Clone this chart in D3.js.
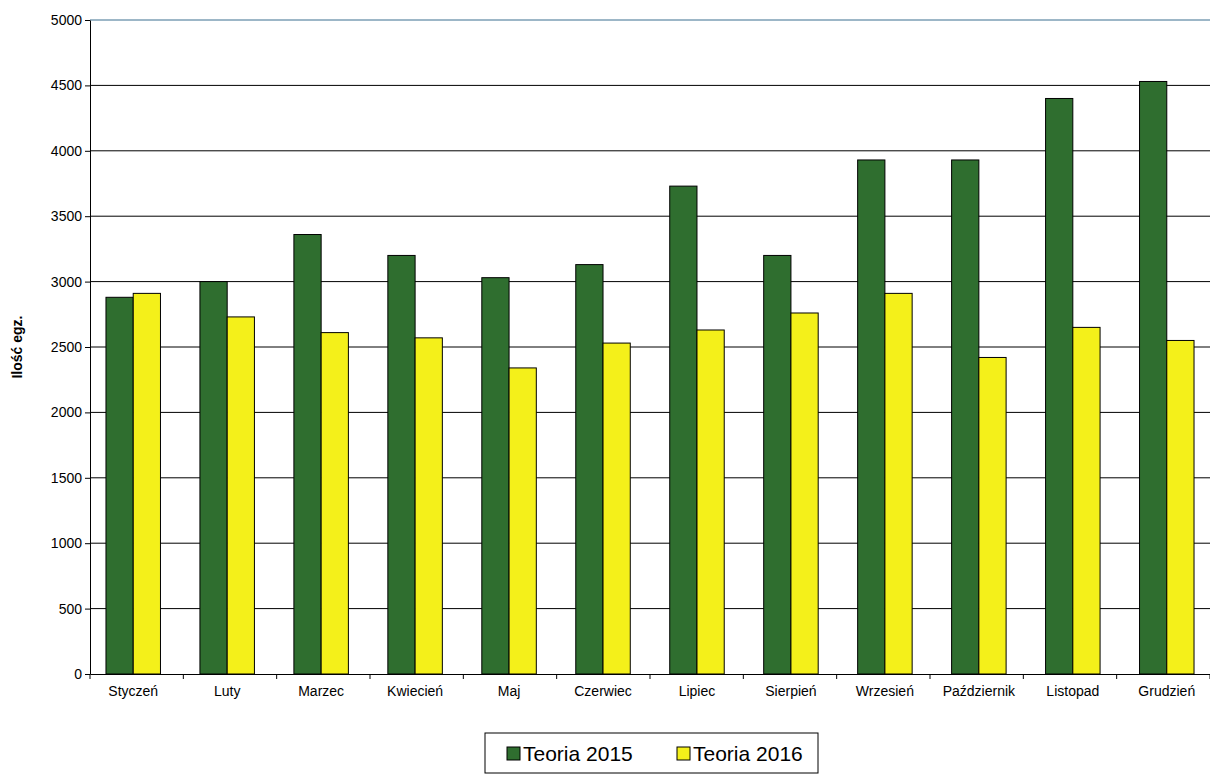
<!DOCTYPE html>
<html><head><meta charset="utf-8">
<script src="https://cdn.jsdelivr.net/npm/d3@7"></script>
<style>body{margin:0;background:#fff;font-family:"Liberation Sans",Arial,sans-serif}</style>
</head><body><svg id="c" width="1210" height="776"></svg>
<script>
const months=["Styczeń","Luty","Marzec","Kwiecień","Maj","Czerwiec","Lipiec","Sierpień","Wrzesień","Październik","Listopad","Grudzień"];
const teoria2015=[2880,3000,3360,3200,3030,3130,3730,3200,3930,3930,4400,4530];
const teoria2016=[2910,2730,2610,2570,2340,2530,2630,2760,2910,2420,2650,2550];
const seriesNames=["Teoria 2015","Teoria 2016"];
const colors=["#2f6e2f","#f4f01a"];
const yTicks=d3.range(0,5001,500);

const svg=d3.select("#c");
const m={l:90,r:0,t:20,b:102};
const W=1210-m.l-m.r,H=776-m.t-m.b;
const g=svg.append("g").attr("transform",`translate(${m.l},${m.t})`);
const x=d3.scaleBand().domain(months).range([0,W]).paddingInner(0.42).paddingOuter(0.17);
const y=d3.scaleLinear().domain([0,5000]).range([H,0]);

g.selectAll(".grid").data(yTicks.slice(1)).enter().append("line")
 .attr("x1",0).attr("x2",W).attr("y1",d=>y(d)).attr("y2",d=>y(d))
 .attr("stroke",d=>d===5000?"#3a6f8f":"#000").attr("stroke-width",1);

const bw=x.bandwidth()/2;
[teoria2015,teoria2016].forEach((s,i)=>{
 g.selectAll(".b"+i).data(s).enter().append("rect")
  .attr("x",(d,j)=>x(months[j])+i*bw).attr("width",bw)
  .attr("y",d=>y(d)).attr("height",d=>H-y(d))
  .attr("fill",colors[i]).attr("stroke","#000").attr("stroke-width",1);
});

const ya=g.append("g").call(d3.axisLeft(y).tickValues(yTicks).tickFormat(d3.format("d")).tickSize(5).tickSizeOuter(0));
ya.selectAll("text").attr("font-size",14).attr("fill","#000").attr("font-family","Liberation Sans, Arial");
ya.select(".domain").attr("stroke","#000");
const xa=g.append("g").attr("transform",`translate(0,${H})`).call(d3.axisBottom(x).tickSize(0).tickPadding(12));
xa.selectAll("text").attr("font-size",14).attr("fill","#000").attr("font-family","Liberation Sans, Arial");
xa.select(".domain").attr("stroke","#000");
g.selectAll(".sep").data(d3.range(0,13)).enter().append("line")
 .attr("x1",d=>d*W/12).attr("x2",d=>d*W/12).attr("y1",H).attr("y2",H+5).attr("stroke","#000");

svg.append("text").attr("transform",`translate(22,${m.t+H/2}) rotate(-90)`)
 .attr("text-anchor","middle").attr("font-weight","bold").attr("font-size",14).text("Ilość egz.");

const lg=svg.append("g").attr("transform","translate(485,733)");
lg.append("rect").attr("width",333).attr("height",40).attr("fill","#fff").attr("stroke","#000");
seriesNames.forEach((n,i)=>{
 const gx=22+i*170;
 lg.append("rect").attr("x",gx).attr("y",14).attr("width",13).attr("height",13).attr("fill",colors[i]).attr("stroke","#000");
 lg.append("text").attr("x",gx+16).attr("y",28).attr("font-size",21).text(n);
});
</script></body></html>
